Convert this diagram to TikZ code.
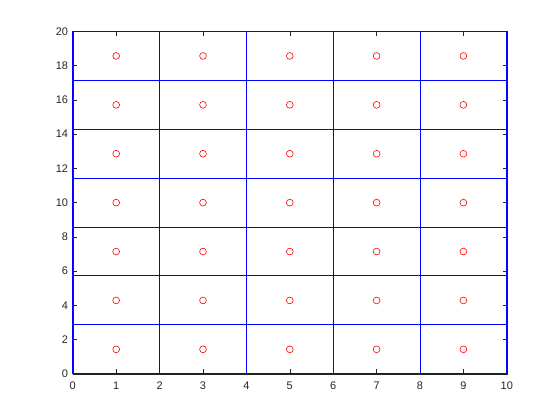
\documentclass[tikz,border=0pt]{standalone}
\usepackage{fontspec}
\setmainfont{Liberation Sans}
\definecolor{axisgray}{rgb}{0.15,0.15,0.15}
\tikzset{
  tickmark/.style={line width=0.5pt, color=axisgray},
  cellline/.style={line width=1pt, color=blue},
  marker/.style={line width=0.6pt, color=red}
}
\begin{document}
\begin{tikzpicture}[x=43.4pt, y=17.115pt, font=\fontsize{11}{13}\selectfont]
		%%%%% START %%%%%
		\useasboundingbox (-72.8pt, -46.2pt) rectangle (487.2pt, 373.8pt);
		
		% axes box and ticks
		\draw[tickmark] (0, 0) rectangle (10, 20);
		\foreach \x in {0,...,10} {
			\draw[tickmark] (\x, 0) -- ++(0, 4.3pt);
			\draw[tickmark] (\x, 20) -- ++(0, -4.3pt);
			\node[anchor=north, inner sep=2pt, color=axisgray] at ([yshift=-6pt]\x, 0) {\x};
		}
		\foreach \y in {0,2,...,20} {
			\draw[tickmark] (0, \y) -- ++(4.3pt, 0);
			\draw[tickmark] (10, \y) -- ++(-4.3pt, 0);
			\node[anchor=east, inner sep=2pt, color=axisgray] at ([xshift=-2.5pt]0, \y) {\y};
		}
		
		% cells
		\foreach \k in {0,...,7}
			\draw[cellline] (0, {\k*20/7}) -- (10, {\k*20/7});
		\foreach \x in {0,2,...,10}
			\draw[cellline] (\x, 0) -- (\x, 20);
		
		% cell centres
		\foreach \x in {1,3,...,9}
			\foreach \k in {0,...,6}
				\draw[marker] (\x, {(2*\k+1)*10/7}) circle (3.4pt);
		
		%%%%% END %%%%%
\end{tikzpicture}
\end{document}
